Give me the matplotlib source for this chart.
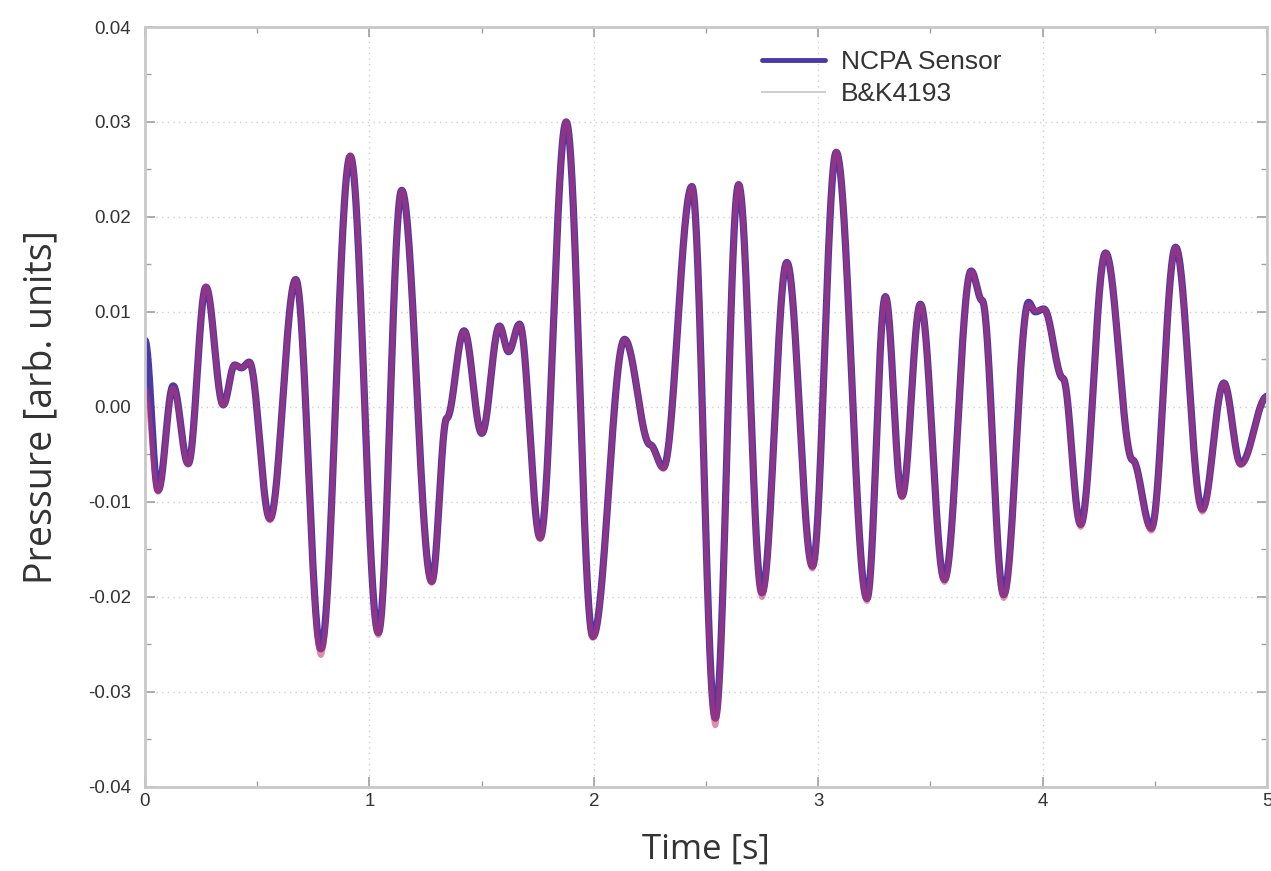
import numpy as np
import matplotlib.pyplot as plt
from matplotlib.ticker import MultipleLocator

# turning points of the two pressure traces (time in s, pressure in arb. units)
knot_t = [0.000, 0.059, 0.126, 0.193, 0.272, 0.349, 0.400, 0.430, 0.465, 0.557,
          0.672, 0.784, 0.915, 1.040, 1.144, 1.278, 1.345, 1.422, 1.501, 1.580,
          1.620, 1.669, 1.761, 1.877, 1.996, 2.137, 2.251, 2.310, 2.437, 2.541,
          2.645, 2.749, 2.860, 2.974, 3.080, 3.217, 3.299, 3.373, 3.455, 3.562,
          3.681, 3.730, 3.826, 3.937, 3.967, 4.005, 4.090, 4.169, 4.280, 4.400,
          4.484, 4.592, 4.711, 4.807, 4.882, 5.000]

ncpa_v = [0.0070, -0.0088, 0.0022, -0.0060, 0.0126, 0.0002, 0.0044, 0.0041, 0.0047, -0.0118,
          0.0134, -0.0255, 0.0264, -0.0238, 0.0228, -0.0184, -0.0012, 0.0080, -0.0028, 0.0085,
          0.0058, 0.0087, -0.0138, 0.0300, -0.0242, 0.0071, -0.0040, -0.0064, 0.0232, -0.0328,
          0.0234, -0.0196, 0.0152, -0.0168, 0.0268, -0.0202, 0.0116, -0.0094, 0.0108, -0.0182,
          0.0143, 0.0112, -0.0198, 0.0110, 0.0100, 0.0103, 0.0030, -0.0124, 0.0162, -0.0056,
          -0.0128, 0.0168, -0.0108, 0.0025, -0.0060, 0.0011]

bk_v = [0.0020, -0.0090, 0.0020, -0.0061, 0.0127, 0.0001, 0.0044, 0.0041, 0.0047, -0.0120,
        0.0134, -0.0262, 0.0265, -0.0241, 0.0228, -0.0186, -0.0012, 0.0080, -0.0028, 0.0085,
        0.0058, 0.0087, -0.0140, 0.0301, -0.0244, 0.0071, -0.0040, -0.0066, 0.0232, -0.0336,
        0.0235, -0.0201, 0.0152, -0.0171, 0.0269, -0.0205, 0.0116, -0.0096, 0.0108, -0.0185,
        0.0143, 0.0112, -0.0202, 0.0108, 0.0101, 0.0103, 0.0030, -0.0127, 0.0162, -0.0056,
        -0.0131, 0.0168, -0.0111, 0.0025, -0.0062, 0.0011]

x_ticks = [0, 1, 2, 3, 4, 5]
y_ticks = [-0.04, -0.03, -0.02, -0.01, 0.0, 0.01, 0.02, 0.03, 0.04]


def trace(tk, vk, n=60):
    # smooth half-cosine swing between consecutive turning points
    tt, vv = [], []
    for i in range(len(tk) - 1):
        s = np.linspace(0, 1, n, endpoint=False)
        w = (1 - np.cos(np.pi * s)) / 2
        tt.append(tk[i] + (tk[i + 1] - tk[i]) * s)
        vv.append(vk[i] + (vk[i + 1] - vk[i]) * w)
    tt.append([tk[-1]])
    vv.append([vk[-1]])
    return np.concatenate(tt), np.concatenate(vv)


t1, p1 = trace(knot_t, ncpa_v)
t2, p2 = trace(knot_t, bk_v)

fig = plt.figure(figsize=(12.71, 8.71), dpi=100)
ax = fig.add_axes([0.114, 0.097, 0.883, 0.872])

ax.plot(t1, p1, color='#4a3aa8', lw=5.2, solid_capstyle='round', label='NCPA Sensor')
ax.plot(t2, p2, color='#c8306a', lw=3.6, alpha=0.55, label='B&K4193')

ax.set_xlim(0, 5)
ax.set_ylim(-0.04, 0.04)
ax.set_xticks(x_ticks)
ax.set_yticks(y_ticks)
ax.set_xticklabels([str(v) for v in x_ticks])
ax.set_yticklabels(['%.2f' % v for v in y_ticks])
ax.xaxis.set_minor_locator(MultipleLocator(0.5))
ax.yaxis.set_minor_locator(MultipleLocator(0.005))

ax.grid(True, which='major', color='#d0d0d0', linestyle=(0, (1, 3)), linewidth=1.0)
for sp in ax.spines.values():
    sp.set_color('#c8c8c8')
    sp.set_linewidth(2.0)
ax.tick_params(which='both', direction='in', top=True, right=True, colors='#a0a0a0',
               labelcolor='#333333', labelsize=13.5)
ax.tick_params(which='major', length=7, width=1.2)
ax.tick_params(axis='y', which='major', pad=10)
ax.tick_params(axis='x', which='major', pad=5)
ax.tick_params(which='minor', length=4, width=1.0)
for lab in ax.get_xticklabels() + ax.get_yticklabels():
    lab.set_family(['Liberation Sans', 'DejaVu Sans'])

ax.set_xlabel('Time [s]', fontsize=25, family=['Open Sans', 'DejaVu Sans'], color='#333333', labelpad=16)
ax.set_ylabel('Pressure [arb. units]', fontsize=27, family=['Open Sans', 'DejaVu Sans'], color='#333333', labelpad=20)

leg = ax.legend(loc='upper left', bbox_to_anchor=(0.538, 0.9865), frameon=False, borderpad=0,
                handlelength=2.4, handletextpad=0.6, labelspacing=0.3,
                prop={'family': ['Liberation Sans', 'DejaVu Sans'], 'size': 19})
leg.get_lines()[0].set_linewidth(3.5)
leg.get_lines()[1].set_color('#d4ccd0')
leg.get_lines()[1].set_alpha(1.0)
leg.get_lines()[1].set_linewidth(1.5)
for txt in leg.get_texts():
    txt.set_color('#333333')

fig.savefig('out.png', dpi=100)
